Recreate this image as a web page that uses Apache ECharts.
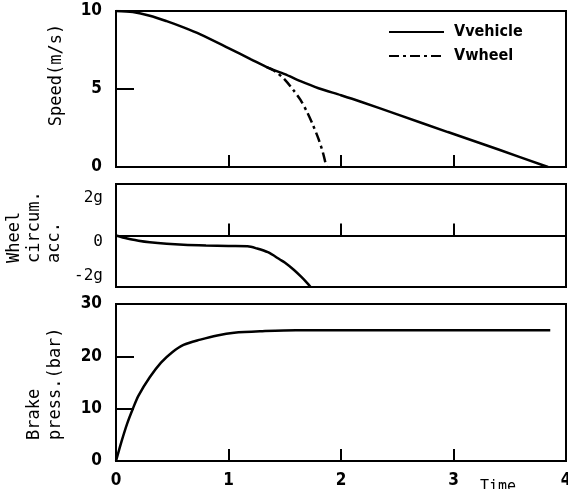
<!DOCTYPE html>
<html>
<head>
<meta charset="utf-8">
<script src="https://cdn.jsdelivr.net/npm/echarts@6/dist/echarts.min.js"></script>
<style>
html,body{margin:0;padding:0;background:#fff;}
#chart{width:568px;height:489px;}
</style>
</head>
<body>
<div id="chart"></div>
<script>
// ---- data ----
var vehicleT = [0, 0.15, 0.3, 0.45, 0.6, 0.75, 1.0, 1.2, 1.34, 1.5, 1.64, 1.8, 2.0, 2.17, 2.5, 2.95, 3.4, 3.84];
var vehicleV = [10, 9.93, 9.7, 9.35, 8.95, 8.5, 7.62, 6.9, 6.4, 5.95, 5.5, 5.05, 4.6, 4.2, 3.37, 2.24, 1.12, 0];
var wheelT = [1.34, 1.42, 1.5, 1.58, 1.64, 1.7, 1.75, 1.8, 1.84, 1.87];
var wheelV = [6.4, 6.1, 5.6, 4.9, 4.3, 3.5, 2.7, 1.8, 0.9, 0];
var accT = [0, 0.1, 0.2, 0.3, 0.45, 0.6, 0.8, 1.0, 1.17, 1.25, 1.35, 1.46, 1.5, 1.58, 1.65, 1.7, 1.73];
var accV = [0, -0.12, -0.2, -0.26, -0.32, -0.36, -0.39, -0.41, -0.42, -0.5, -0.65, -0.94, -1.05, -1.33, -1.62, -1.85, -2.0];
var pressT = [0, 0.05, 0.1, 0.15, 0.2, 0.3, 0.4, 0.5, 0.6, 0.75, 0.9, 1.05, 1.3, 1.6, 2.0, 3.86];
var pressV = [0, 3.8, 7.2, 10, 12.5, 16, 18.8, 20.8, 22.2, 23.2, 24.0, 24.5, 24.8, 25, 25, 25];
var timeTicks = [0, 1, 2, 3, 4];
var speedTicks = [0, 5, 10];
var accTicks = ['-2g', '0', '2g'];
var pressTicks = [0, 10, 20, 30];
var seriesNames = ['Vvehicle', 'Vwheel'];

function pairs(t, v) { return t.map(function (x, i) { return [x, v[i]]; }); }

var MONO = '"DejaVu Sans Mono", monospace';
var BOLD = '"DejaVu Sans Condensed", "DejaVu Sans", sans-serif';

var chart = echarts.init(document.getElementById('chart'), null, {renderer: 'canvas'});

function gridDef(top, h) {
  return {left: 116, top: top, width: 450, height: h, show: true,
    borderColor: '#000', borderWidth: 2, backgroundColor: 'transparent',
    containLabel: false, outerBoundsMode: 'none'};
}
function xAx(idx, showLabel) {
  var a = {
    type: 'value', gridIndex: idx, min: timeTicks[0], max: timeTicks[timeTicks.length - 1], interval: 1,
    axisLine: {show: true, lineStyle: {color: '#000', width: 2}},
    axisTick: {show: true, inside: true, length: 12, lineStyle: {color: '#000', width: 2}},
    splitLine: {show: false},
    axisLabel: {show: showLabel, color: '#000', fontFamily: BOLD, fontWeight: 'bold', fontSize: 17,
      margin: 11, verticalAlign: 'top'}
  };
  if (showLabel) {
    a.name = 'Time';
    a.nameLocation = 'end';
    a.nameGap = -86;
    a.nameTextStyle = {fontFamily: MONO, fontSize: 15, color: '#000', align: 'left', verticalAlign: 'top', padding: [19, 0, 0, 0]};
  }
  return a;
}

var option = {
  animation: false,
  backgroundColor: '#fff',
  grid: [gridDef(11, 156), gridDef(184, 103), gridDef(304, 157)],
  legend: {
    data: seriesNames,
    orient: 'vertical',
    left: 383, top: 19,
    itemWidth: 55, itemHeight: 14, itemGap: 8,
    itemStyle: {color: 'transparent', borderColor: 'transparent', borderWidth: 0},
    textStyle: {fontFamily: BOLD, fontWeight: 'bold', fontSize: 16, color: '#000', padding: [0, 0, 0, 5], lineHeight: 16}
  },
  xAxis: [xAx(0, false), xAx(1, false), xAx(2, true)],
  yAxis: [
    {
      type: 'value', gridIndex: 0, min: speedTicks[0], max: speedTicks[2], interval: 5,
      axisLine: {show: true, lineStyle: {color: '#000', width: 2}},
      axisTick: {show: true, inside: true, length: 18, lineStyle: {color: '#000', width: 2}},
      splitLine: {show: false},
      axisLabel: {color: '#000', fontFamily: BOLD, fontWeight: 'bold', fontSize: 17, margin: 14},
      name: 'Speed(m/s)', nameLocation: 'middle', nameGap: 51,
      nameTextStyle: {fontFamily: MONO, fontSize: 17, color: '#000', padding: [0, 0, 0, 28]}
    },
    {
      type: 'value', gridIndex: 1, min: -2, max: 2, interval: 2,
      axisLine: {show: true, lineStyle: {color: '#000', width: 2}},
      axisTick: {show: false},
      splitLine: {show: true, lineStyle: {color: '#000', width: 2}},
      axisLabel: {
        color: '#000', fontFamily: MONO, fontSize: 16, margin: 13,
        formatter: function (v) {
          if (v === 2) return '{t|' + accTicks[2] + '}';
          if (v === 0) return '{z|' + accTicks[1] + '}';
          return '{b|' + accTicks[0] + '}';
        },
        rich: {
          t: {fontFamily: MONO, fontSize: 16, color: '#000', padding: [28, 0, 0, 0]},
          z: {fontFamily: MONO, fontSize: 16, color: '#000', padding: [12, 0, 0, 0]},
          b: {fontFamily: MONO, fontSize: 16, color: '#000', padding: [0, 0, 22, 0]}
        }
      },
      name: '{a|Wheel}\n{a|circum.}\n{a|acc.}', nameLocation: 'middle', nameGap: 46,
      nameTextStyle: {fontFamily: MONO, fontSize: 17, color: '#000', padding: [0, 0, 0, 19],
        rich: {a: {fontFamily: MONO, fontSize: 17, color: '#000', width: 74, align: 'left', lineHeight: 20}}}
    },
    {
      type: 'value', gridIndex: 2, min: pressTicks[0], max: pressTicks[3], interval: 10,
      axisLine: {show: true, lineStyle: {color: '#000', width: 2}},
      axisTick: {show: true, inside: true, length: 18, lineStyle: {color: '#000', width: 2}},
      splitLine: {show: false},
      axisLabel: {color: '#000', fontFamily: BOLD, fontWeight: 'bold', fontSize: 17, margin: 14},
      name: '{a|Brake}\n{a|press.(bar)}', nameLocation: 'middle', nameGap: 50,
      nameTextStyle: {fontFamily: MONO, fontSize: 17, color: '#000',
        rich: {a: {fontFamily: MONO, fontSize: 17, color: '#000', width: 115, align: 'left', lineHeight: 21}}}
    }
  ],
  series: [
    {name: seriesNames[0], type: 'line', xAxisIndex: 0, yAxisIndex: 0, data: pairs(vehicleT, vehicleV),
      smooth: 0.3, showSymbol: false, symbol: 'none', lineStyle: {color: '#000', width: 2.5}, itemStyle: {color: '#000'}},
    {name: seriesNames[1], type: 'line', xAxisIndex: 0, yAxisIndex: 0, data: pairs(wheelT, wheelV),
      smooth: 0.3, showSymbol: false, symbol: 'none', lineStyle: {color: '#000', width: 2.5, type: [10, 4, 3, 4]}, itemStyle: {color: '#000'}},
    {name: 'acc', type: 'line', xAxisIndex: 1, yAxisIndex: 1, data: pairs(accT, accV),
      smooth: 0.3, showSymbol: false, symbol: 'none', lineStyle: {color: '#000', width: 2.5}},
    {name: 'press', type: 'line', xAxisIndex: 2, yAxisIndex: 2, data: pairs(pressT, pressV),
      smooth: 0.3, showSymbol: false, symbol: 'none', lineStyle: {color: '#000', width: 2.5}}
  ]
};
chart.setOption(option);
</script>
</body>
</html>
